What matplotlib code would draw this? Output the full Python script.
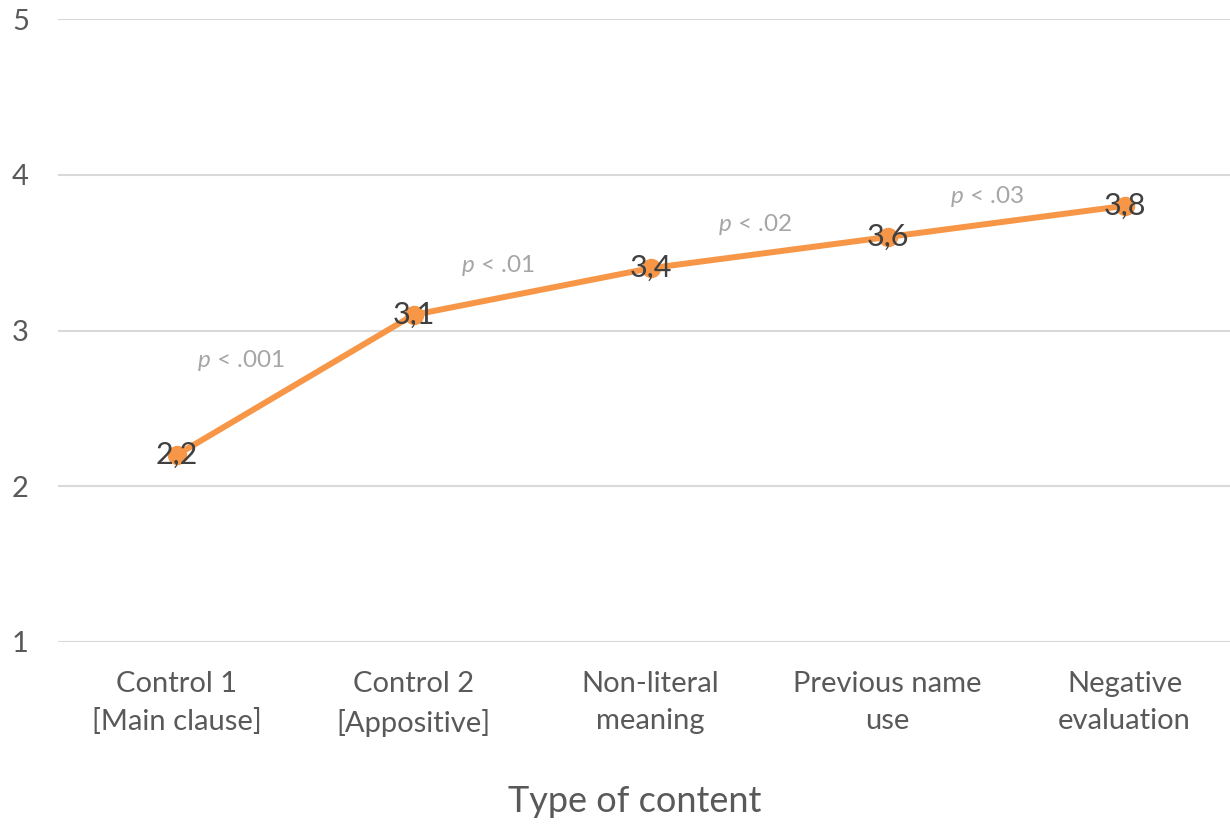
import matplotlib
matplotlib.use("Agg")
import matplotlib.pyplot as plt

# Datos
categorias = ["Control 1\n[Main clause]", "Control 2\n[Appositive]", "Non-literal\nmeaning",
              "Previous name\nuse", "Negative\nevaluation"]
medias = [2.2, 3.1, 3.4, 3.6, 3.8]
etiquetas_medias = ["2,2", "3,1", "3,4", "3,6", "3,8"]
etiquetas_p = ["< .001", "< .01", "< .02", "< .03"]

# Posiciones de las anotaciones de p (x en categorías, y en escala)
pos_p_x = [0.27, 1.354, 2.44, 3.42]
pos_p_y = [2.81, 3.42, 3.68, 3.86]

plt.rcParams['font.family'] = ['Lato', 'DejaVu Sans']
plt.rcParams['mathtext.fontset'] = 'custom'
plt.rcParams['mathtext.it'] = 'Lato:italic'
plt.rcParams['mathtext.rm'] = 'Lato'

naranja = '#F79646'
gris_ticks = '#595959'

fig = plt.figure(figsize=(12.3, 8.24), dpi=100)
ax = fig.add_axes([58 / 1230, 182 / 824, 1185 / 1230, 623 / 824])

x = list(range(len(categorias)))
ax.plot(x, medias, color=naranja, linewidth=4.3, marker='o', markersize=13,
        solid_capstyle='round', zorder=3)

for xi, yi, txt in zip(x, medias, etiquetas_medias):
    ax.text(xi, yi, txt, ha='center', va='center', fontsize=22, color='#404040', zorder=4)

for xp, yp, txt in zip(pos_p_x, pos_p_y, etiquetas_p):
    ax.text(xp, yp, r'$\it{p}$ ' + txt, ha='center', va='center', fontsize=17.5, color='#A6A6A6')

ax.set_xlim(-0.5, len(categorias) - 0.5)
ax.set_ylim(1, 5)
ax.set_yticks([1, 2, 3, 4, 5])
ax.set_xticks(x)
ax.set_xticklabels(categorias, fontsize=21, color=gris_ticks, linespacing=1.5)
ax.tick_params(axis='y', labelsize=21, labelcolor=gris_ticks, length=0, pad=21)
ax.tick_params(axis='x', length=0, pad=21)

ax.grid(axis='y', color='#D9D9D9', linewidth=1.5)
ax.set_axisbelow(True)
for s in ax.spines.values():
    s.set_visible(False)

ax.set_xlabel('Type of content', fontsize=26, color=gris_ticks, va='center')
ax.xaxis.set_label_coords((635 - 58) / 1185, (642 - 802) / 623)

fig.savefig('out.png', dpi=100)
